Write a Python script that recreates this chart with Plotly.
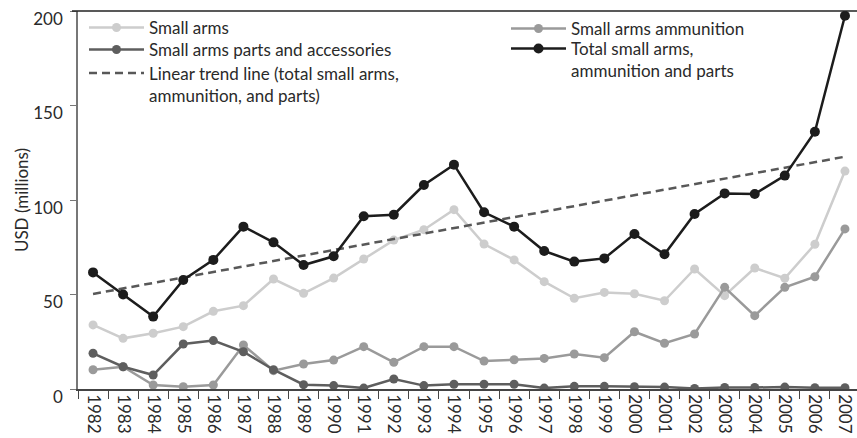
import plotly.graph_objects as go

years = [str(y) for y in range(1982, 2008)]

small_arms = [33.9, 26.8, 29.5, 33.0, 41.1, 44.1, 58.2, 50.6, 58.7, 68.8, 78.8, 84.3, 94.9,
              76.7, 68.3, 56.8, 48.0, 51.1, 50.4, 46.7, 63.5, 49.4, 64.0, 58.6, 76.6, 115.3]
ammunition = [10.2, 11.8, 2.1, 1.2, 2.1, 23.3, 9.7, 13.2, 15.3, 22.4, 14.1, 22.4, 22.4,
              14.8, 15.5, 16.2, 18.5, 16.6, 30.3, 24.2, 29.1, 53.8, 38.8, 53.8, 59.4, 84.7]
parts = [18.9, 11.8, 7.4, 23.8, 25.6, 19.7, 10.2, 2.3, 1.8, 0.5, 5.3, 1.8, 2.5,
         2.5, 2.5, 0.5, 1.4, 1.4, 1.2, 1.0, 0.3, 0.8, 0.8, 1.0, 0.7, 0.7]
total = [61.7, 50.0, 38.3, 57.7, 68.3, 85.9, 77.6, 65.6, 70.2, 91.4, 92.2, 107.9, 118.7,
         93.5, 85.9, 73.0, 67.4, 69.1, 82.0, 71.3, 92.6, 103.5, 103.2, 112.9, 136.1, 197.5]
trend_x = ["1982", "2007"]
trend_y = [50.3, 122.9]

FONT = "Lato"
ML, MT, MB = 78, 11, 48.5
PW = 857 - ML
PH = 438 - MT - MB
fig = go.Figure()

fig.add_trace(go.Scatter(x=years, y=small_arms, name="Small arms", mode="lines+markers",
                         line=dict(color="#cdcdcd", width=2.5), marker=dict(size=9, color="#cdcdcd"),
                         legend="legend"))
fig.add_trace(go.Scatter(x=years, y=ammunition, name="Small arms ammunition", mode="lines+markers",
                         line=dict(color="#9a9a9a", width=2.5), marker=dict(size=9, color="#9a9a9a"),
                         legend="legend4"))
fig.add_trace(go.Scatter(x=years, y=parts, name="Small arms parts and accessories", mode="lines+markers",
                         line=dict(color="#5e5e5e", width=2.5), marker=dict(size=9, color="#5e5e5e"),
                         legend="legend2"))
fig.add_trace(go.Scatter(x=trend_x, y=trend_y,
                         name="Linear trend line (total small arms,<br>ammunition, and parts)",
                         mode="lines", line=dict(color="#585858", width=2.5, dash="8px,5px"),
                         legend="legend3"))
fig.add_trace(go.Scatter(x=years, y=total, name="Total small arms,<br>ammunition and parts",
                         mode="lines+markers",
                         line=dict(color="#1c1c1c", width=2.5), marker=dict(size=10, color="#1c1c1c"),
                         legend="legend5"))

# top border line
fig.add_shape(type="line", xref="paper", yref="paper", x0=-6 / PW, x1=1.01, y0=1, y1=1,
              line=dict(color="#222222", width=1.5))

legend_common = dict(font=dict(family=FONT, size=17, color="#2a2a2a"), bgcolor="rgba(0,0,0,0)",
                     itemwidth=55, tracegroupgap=0, xref="paper", yref="paper", valign="top",
                     xanchor="left", yanchor="top", traceorder="normal", itemclick=False)


def lx(px):
    return (px - ML) / PW


def ly(center_px):
    top = center_px - 16.5
    return 1 - (top - MT) / PH


fig.update_layout(
    width=857, height=438,
    margin=dict(l=ML, r=0, t=MT, b=MB, autoexpand=False),
    paper_bgcolor="white", plot_bgcolor="white",
    font=dict(family=FONT, color="#2a2a2a"),
    showlegend=True,
    legend=dict(x=lx(84), y=ly(26.5), **legend_common),
    legend2=dict(x=lx(84), y=ly(48.5), **legend_common),
    legend3=dict(x=lx(84), y=ly(72), **legend_common),
    legend4=dict(x=lx(506), y=ly(27.5), **legend_common),
    legend5=dict(x=lx(506), y=ly(47.5), **legend_common),
    xaxis=dict(type="category", range=[-0.5, 25.4], tickangle=90, tickson="boundaries",
               ticks="outside", ticklen=8, tickcolor="#444444", showline=True,
               linecolor="#444444", linewidth=1.5, showgrid=False, zeroline=False,
               tickfont=dict(family=FONT, size=17, color="#2a2a2a")),
    yaxis=dict(range=[0, 200], tickvals=[0, 50, 100, 150, 200], ticks="outside", ticklen=6,
               tickcolor="#777777", showline=True, linecolor="#777777", linewidth=1.5,
               showgrid=False, zeroline=False, ticklabelshift=8, ticklabelstandoff=4,
               ticklabeloverflow="allow",
               tickfont=dict(family=FONT, size=17, color="#2a2a2a"),
               title=dict(text="USD (millions)", font=dict(family=FONT, size=17, color="#2a2a2a"),
                          standoff=0)),
)

fig.write_html("out.html", config={"displayModeBar": False},
               post_script="document.body.style.margin='0px';document.body.style.padding='0px';")
